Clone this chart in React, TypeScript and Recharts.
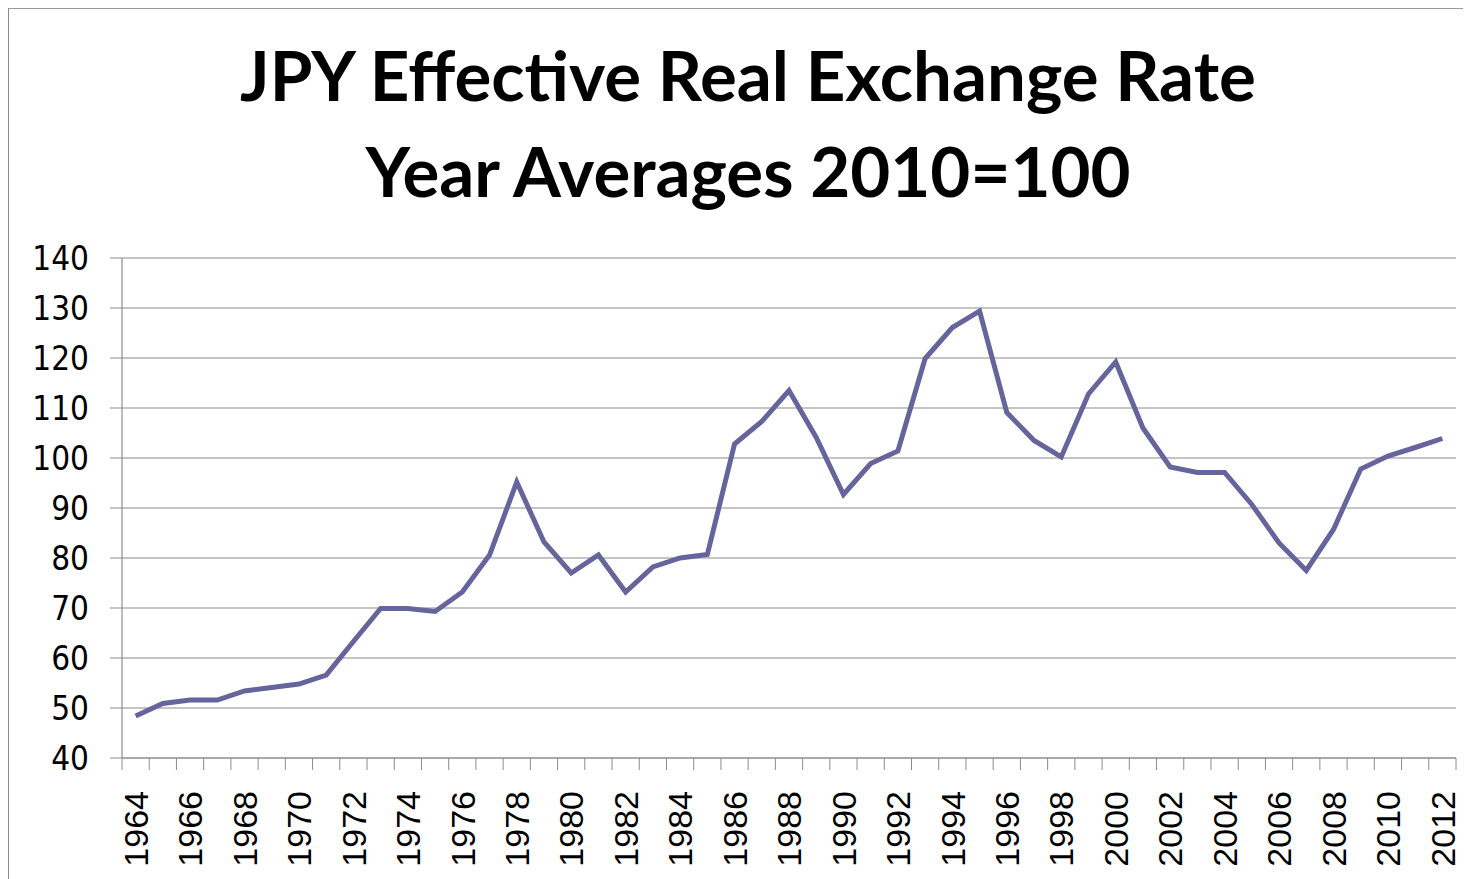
import React from "react";
import { LineChart, Line, XAxis, YAxis, CartesianGrid } from "recharts";

const years = [
  1964, 1965, 1966, 1967, 1968, 1969, 1970, 1971, 1972, 1973, 1974, 1975, 1976,
  1977, 1978, 1979, 1980, 1981, 1982, 1983, 1984, 1985, 1986, 1987, 1988, 1989,
  1990, 1991, 1992, 1993, 1994, 1995, 1996, 1997, 1998, 1999, 2000, 2001, 2002,
  2003, 2004, 2005, 2006, 2007, 2008, 2009, 2010, 2011, 2012,
];

const rate = [
  48.4, 50.9, 51.6, 51.6, 53.4, 54.1, 54.8, 56.6, 63.3, 69.9, 69.9, 69.3, 73.2,
  80.6, 95.2, 83.2, 77.0, 80.6, 73.2, 78.2, 80.0, 80.7, 102.8, 107.3, 113.5,
  104.1, 92.7, 98.9, 101.4, 119.9, 126.1, 129.4, 109.1, 103.5, 100.2, 112.8,
  119.2, 106.0, 98.2, 97.1, 97.1, 90.7, 83.0, 77.5, 85.7, 97.8, 100.4, 102.1,
  103.9,
];

const yTicks = [40, 50, 60, 70, 80, 90, 100, 110, 120, 130, 140];
const titleLines = ["JPY Effective Real Exchange Rate", "Year Averages 2010=100"];

const data = years.map((year, i) => ({ year, rate: rate[i] }));

// tick marks sit between the years, labels on every second year
const boundaries = [...years.map((y) => y - 0.5), years[years.length - 1] + 0.5];
const xTicks = [...boundaries, ...years.filter((y) => y % 2 === 0)];

const GRID = "#8c8c8c";

const XTick = (props: any) => {
  const { x, y, payload } = props;
  const v = payload.value;
  if (!Number.isInteger(v)) {
    return <line x1={x} y1={y} x2={x} y2={y + 12} stroke={GRID} strokeWidth={1} />;
  }
  return (
    <text
      x={x}
      y={y + 33}
      transform={`rotate(-90, ${x}, ${y + 33})`}
      textAnchor="end"
      dy="0.36em"
      fontSize={34}
      fontFamily="'Liberation Sans', Arial, sans-serif"
      fill="#000"
    >
      {v}
    </text>
  );
};

export default function App() {
  return (
    <div
      style={{
        position: "relative",
        width: 1463,
        height: 872,
        marginTop: -1,
        borderLeft: "1px solid #8c8c8c",
        borderTop: "2px solid #9a9a9a",
        boxSizing: "border-box",
        background: "#fff",
      }}
    >
      <div
        style={{
          position: "absolute",
          left: 0,
          width: 1478,
          top: 18,
          textAlign: "center",
          fontFamily: "Lato, 'Open Sans', sans-serif",
          fontWeight: 700,
          fontSize: 69,
          lineHeight: "96px",
          color: "#000",
        }}
      >
        {titleLines.map((t) => (
          <div key={t}>{t}</div>
        ))}
      </div>
      <LineChart
        width={1462}
        height={869}
        data={data}
        margin={{ top: 249, right: 15, left: 0, bottom: 2 }}
      >
        <CartesianGrid vertical={false} stroke={GRID} strokeWidth={1.2} />
        <XAxis
          dataKey="year"
          type="number"
          domain={[boundaries[0], boundaries[boundaries.length - 1]]}
          ticks={xTicks}
          interval={0}
          tickLine={false}
          tickSize={0}
          tickMargin={0}
          axisLine={{ stroke: GRID, strokeWidth: 1.2 }}
          tick={XTick}
          height={118}
        />
        <YAxis
          domain={[40, 140]}
          ticks={yTicks}
          interval={0}
          width={113}
          tickSize={12}
          tickMargin={21}
          tickLine={{ stroke: GRID }}
          axisLine={{ stroke: GRID, strokeWidth: 1.2 }}
          tick={{
            fontSize: 33,
            fill: "#000",
            fontFamily: "'Liberation Sans Narrow', 'DejaVu Sans Condensed', sans-serif",
          }}
        />
        <Line
          type="linear"
          dataKey="rate"
          stroke="#65659c"
          strokeWidth={5}
          dot={false}
          isAnimationActive={false}
        />
      </LineChart>
    </div>
  );
}
